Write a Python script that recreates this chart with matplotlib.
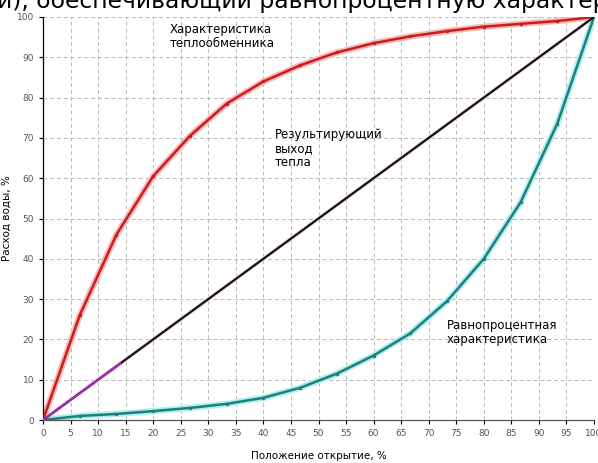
import numpy as np
import matplotlib
matplotlib.use('Agg')
import matplotlib.pyplot as plt

# valve position, %
position = [0, 6.67, 13.33, 20, 26.67, 33.33, 40, 46.67, 53.33, 60,
            66.67, 73.33, 80, 86.67, 93.33, 100]
# heat exchanger characteristic
exchanger = [0, 26, 46, 60.5, 70.5, 78.5, 84, 88, 91.2, 93.5,
             95.2, 96.5, 97.6, 98.3, 99, 100]
# equal percentage characteristic
equal_pct = [0, 1, 1.5, 2.2, 3, 4, 5.5, 8, 11.5, 16,
             21.5, 29.5, 40, 54, 73.5, 100]
# resulting heat output
result_x = [0, 100]
result_y = [0, 100]

FONTSIZE = 8.5

fig = plt.figure(figsize=(5.98, 4.63), dpi=100)
ax = fig.add_axes([43/598, 43/463, 551/598, 403/463])

# glow under the lines
ax.plot(position, exchanger, color='#f8b8b8', linewidth=4.5, solid_capstyle='round', zorder=2)
ax.plot(position, equal_pct, color='#b0eef0', linewidth=4.5, solid_capstyle='round', zorder=2)
ax.plot(result_x, result_y, color='#f4dcf0', linewidth=3.0, zorder=2)

ax.plot(position, exchanger, color='#cc1c1c', linewidth=1.8, marker='o', markersize=1.5, zorder=3)
ax.plot(position, equal_pct, color='#1e8078', linewidth=1.8, marker='o', markersize=1.5, zorder=3)
ax.plot(result_x, result_y, color='#111111', linewidth=1.6, zorder=3)
ax.plot([0, 14], [0, 14], color='#a030b0', linewidth=1.6, zorder=4)

ax.set_xlim(0, 100)
ax.set_ylim(0, 100)
ax.set_xticks(np.arange(0, 101, 5))
ax.set_yticks(np.arange(0, 101, 10))
ax.tick_params(labelsize=6.5, labelcolor='#555555', length=3, width=0.8)
ax.grid(True, color='#b8b8b8', linestyle=(0, (4, 3)), linewidth=0.7)
ax.set_axisbelow(True)

for s in ['top', 'right']:
    ax.spines[s].set_visible(False)
ax.spines['left'].set_linewidth(0.9)
ax.spines['bottom'].set_linewidth(0.9)
ax.spines['bottom'].set_color('#555555')

ax.set_xlabel('Положение открытие, %', fontsize=7.5, labelpad=9)
ax.set_ylabel('Расход воды, %', fontsize=7.5, labelpad=4)

ax.text(23, 98.5, 'Характеристика\nтеплообменника', fontsize=FONTSIZE, va='top', ha='left', linespacing=1.1)
ax.text(42, 72.5, 'Результирующий\nвыход\nтепла', fontsize=FONTSIZE, va='top', ha='left', linespacing=1.1)
ax.text(73.3, 25, 'Равнопроцентная\nхарактеристика', fontsize=FONTSIZE, va='top', ha='left', linespacing=1.1)

# cropped caption at the top edge
fig.text(-0.005, 1 - 8/463, 'и), обеспечивающий равнопроцентную характеристику',
         fontsize=16.9, va='baseline', ha='left')

fig.savefig('out.png', dpi=100)
